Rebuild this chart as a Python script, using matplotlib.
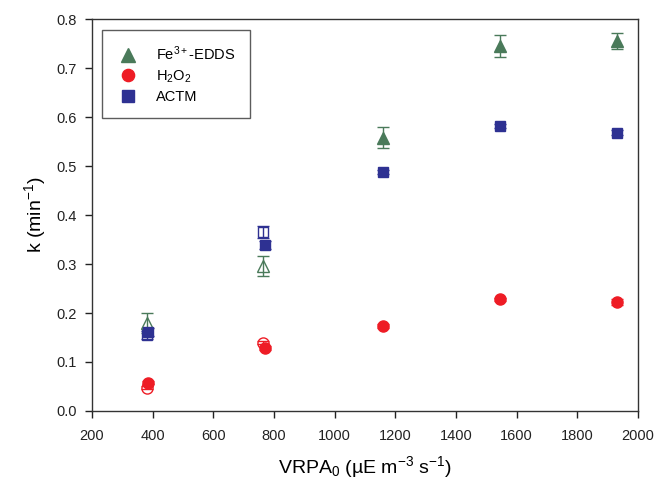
import matplotlib
matplotlib.use("Agg")
import matplotlib.pyplot as plt

plt.rcParams['font.family'] = ['Liberation Sans', 'DejaVu Sans']
plt.rcParams['mathtext.fontset'] = 'custom'
plt.rcParams['mathtext.rm'] = 'Liberation Sans'
plt.rcParams['mathtext.it'] = 'Liberation Sans'

# filled symbols
x_fe = [1158, 1545, 1932]
k_fe = [0.558, 0.745, 0.755]
e_fe = [0.022, 0.022, 0.016]

x_h2o2 = [385, 772, 1160, 1545, 1932]
k_h2o2 = [0.058, 0.129, 0.174, 0.228, 0.222]
e_h2o2 = [0.003, 0.004, 0.004, 0.003, 0.006]

x_actm = [385, 772, 1160, 1545, 1932]
k_actm = [0.162, 0.339, 0.488, 0.582, 0.568]
e_actm = [0.008, 0.008, 0.004, 0.004, 0.005]

# open symbols
x_fe_o = [382, 765]
k_fe_o = [0.180, 0.296]
e_fe_o = [0.020, 0.020]

x_h2o2_o = [382, 765]
k_h2o2_o = [0.047, 0.139]
e_h2o2_o = [0.003, 0.003]

x_actm_o = [382, 765]
k_actm_o = [0.155, 0.365]
e_actm_o = [0.008, 0.012]

green = '#4a7a5a'
red = '#ee1c25'
blue = '#2e3192'

fig = plt.figure(figsize=(6.57, 4.91), dpi=100)
ax = fig.add_axes([0.140, 0.163, 0.831, 0.798])

kw = dict(linestyle='none', capsize=4, elinewidth=1, capthick=1)

ax.errorbar(x_fe_o, k_fe_o, yerr=e_fe_o, marker='^', ms=9, mfc='none', mec=green, color=green, **kw)
ax.errorbar(x_h2o2_o, k_h2o2_o, yerr=e_h2o2_o, marker='o', ms=8, mfc='none', mec=red, color=red, **kw)
ax.errorbar(x_actm_o, k_actm_o, yerr=e_actm_o, marker='s', ms=7.5, mfc='none', mec=blue, color=blue, **kw)

ax.errorbar(x_fe, k_fe, yerr=e_fe, marker='^', ms=9, color=green, label='Fe$^{3+}$-EDDS', **kw)
ax.errorbar(x_h2o2, k_h2o2, yerr=e_h2o2, marker='o', ms=8, color=red, label='H$_2$O$_2$', **kw)
ax.errorbar(x_actm, k_actm, yerr=e_actm, marker='s', ms=7.5, color=blue, label='ACTM', **kw)

ax.set_xlim(200, 2000)
ax.set_ylim(0, 0.8)
ax.set_xticks(range(200, 2001, 200))
ax.set_yticks([i / 10 for i in range(9)])
ax.set_yticklabels([f'{i / 10:.1f}' for i in range(9)])
ax.tick_params(direction='out', length=5, width=1, labelsize=10.5, colors='#222222', pad=6)
ax.tick_params(axis='x', pad=8)
for s in ax.spines.values():
    s.set_color('#333333')
    s.set_linewidth(1)

ax.set_xlabel('VRPA$_0$ (µE m$^{-3}$ s$^{-1}$)', fontsize=14, labelpad=8)
ax.set_ylabel('k (min$^{-1}$)', fontsize=14, labelpad=6)

handles, labels = ax.get_legend_handles_labels()
handles = [h[0] for h in handles]
leg = ax.legend(handles, labels, loc='upper left', bbox_to_anchor=(0.018, 0.972),
                borderaxespad=0, markerscale=1.1,
                fontsize=10.5, frameon=True, fancybox=False, edgecolor='#333333',
                borderpad=1.0, handletextpad=1.15, labelspacing=0.35, handlelength=1.55)
leg.get_frame().set_linewidth(1)

fig.savefig('out.png', dpi=100)
